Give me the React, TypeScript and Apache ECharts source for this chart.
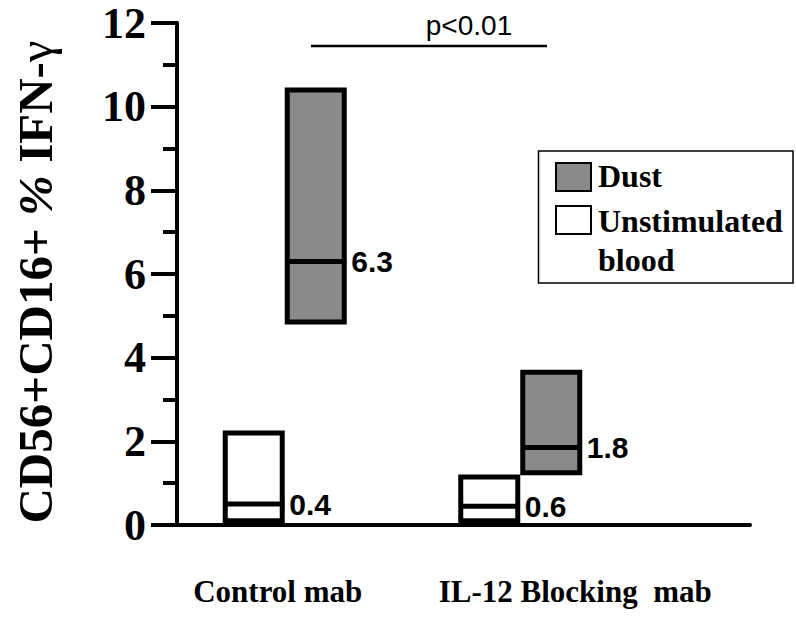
import React, { useEffect, useRef } from "react";
import * as echarts from "echarts";

const categories = ["Control mab", "IL-12 Blocking  mab"];
const yTicks = [0, 2, 4, 6, 8, 10, 12];

const unstimLow = [0.1, 0.1];
const unstimMedian = [0.5, 0.45];
const unstimHigh = [2.2, 1.15];
const unstimLabels = ["0.4", "0.6"];

const dustLow = [4.85, 1.25];
const dustMedian = [6.3, 1.85];
const dustHigh = [10.4, 3.65];
const dustLabels = ["6.3", "1.8"];

const seriesNames = ["Dust", "Unstimulated\nblood"];
const pValue = "p<0.01";

const SERIF = '"Liberation Serif", "Times New Roman", serif';
const SANS = '"Liberation Sans", Arial, sans-serif';

function makeRender(offset: number, fill: string, labels: string[]) {
  const w = 57;
  return (params: any, api: any) => {
    const cat = api.value(0);
    const low = api.value(1);
    const med = api.value(2);
    const high = api.value(3);
    const top = api.coord([cat, high]);
    const bot = api.coord([cat, low]);
    const mid = api.coord([cat, med]);
    const x = top[0] + offset;
    return {
      type: "group",
      children: [
        {
          type: "rect",
          shape: { x: x - w / 2, y: top[1], width: w, height: bot[1] - top[1] },
          style: { fill, stroke: "#000", lineWidth: 5 },
        },
        {
          type: "line",
          shape: { x1: x - w / 2, y1: mid[1], x2: x + w / 2 + 2, y2: mid[1] },
          style: { stroke: "#000", lineWidth: 5 },
        },
        {
          type: "text",
          style: {
            text: labels[params.dataIndex],
            x: x + w / 2 + 7,
            y: mid[1],
            align: "left",
            verticalAlign: "middle",
            fill: "#000",
            font: `bold 30px ${SANS}`,
          },
        },
      ],
    };
  };
}

export default function App() {
  const ref = useRef<HTMLDivElement>(null);
  useEffect(() => {
    document.body.style.margin = "0";
    if (!ref.current) return;
    const chart = echarts.init(ref.current, undefined, { renderer: "svg" });
    const unstimData = categories.map((_, i) => [i, unstimLow[i], unstimMedian[i], unstimHigh[i]]);
    const dustData = categories.map((_, i) => [i, dustLow[i], dustMedian[i], dustHigh[i]]);
    chart.setOption({
      animation: false,
      backgroundColor: "#fff",
      grid: [
        { left: 177, right: 46, top: 23, bottom: 92 },
        { left: 167, right: 158, top: 23, bottom: 92 },
      ],
      xAxis: [
        {
          gridIndex: 0,
          type: "value",
          min: 0,
          max: 1,
          axisLine: { show: true, onZero: false, lineStyle: { color: "#000", width: 4 } },
          axisTick: { show: false },
          axisLabel: { show: false },
          splitLine: { show: false },
        },
        {
          gridIndex: 1,
          type: "category",
          data: categories,
          axisLine: { show: false },
          axisTick: { show: false },
          axisLabel: {
            margin: 51,
            formatter: (v: string) => (v === categories[0] ? `{a|${v}}` : `{b|${v}}`),
            rich: {
              a: { fontFamily: SERIF, fontWeight: "bold", fontSize: 31, color: "#000", padding: [0, 14, 0, 0] },
              b: { fontFamily: SERIF, fontWeight: "bold", fontSize: 31, color: "#000", padding: [0, 0, 0, 110] },
            },
          },
        },
      ],
      yAxis: [
        {
          gridIndex: 0,
          type: "value",
          min: yTicks[0],
          max: yTicks[yTicks.length - 1],
          interval: 2,
          name: "{a|CD56+CD16+ }{b|%}{a| IFN-}{g|γ}",
          nameLocation: "middle",
          nameRotate: 90,
          nameGap: 117,
          nameTextStyle: {
            rich: {
              a: { fontFamily: SERIF, fontWeight: "bold", fontSize: 49, color: "#000" },
              b: { fontFamily: SERIF, fontWeight: "bold", fontStyle: "italic", fontSize: 49, color: "#000" },
              g: { fontFamily: SERIF, fontWeight: "normal", fontSize: 49, color: "#000", padding: [0, 16, 0, 0] },
            },
          },
          axisLine: { show: true, lineStyle: { color: "#000", width: 4 } },
          axisTick: { show: true, length: 26, lineStyle: { color: "#000", width: 4 } },
          minorTick: { show: true, splitNumber: 2, length: 14, lineStyle: { color: "#000", width: 4 } },
          axisLabel: {
            margin: 31,
            fontFamily: SERIF,
            fontWeight: "bold",
            fontSize: 44,
            lineHeight: 40,
            color: "#000",
          },
          splitLine: { show: false },
        },
        {
          gridIndex: 1,
          type: "value",
          min: yTicks[0],
          max: yTicks[yTicks.length - 1],
          show: false,
        },
      ],
      series: [
        {
          name: seriesNames[1],
          type: "custom",
          xAxisIndex: 1,
          yAxisIndex: 1,
          renderItem: makeRender(-31, "#fff", unstimLabels),
          encode: { x: 0, y: [1, 2, 3] },
          data: unstimData,
        },
        {
          name: seriesNames[0],
          type: "custom",
          xAxisIndex: 1,
          yAxisIndex: 1,
          renderItem: makeRender(31, "#8a8a8a", dustLabels),
          encode: { x: 0, y: [1, 2, 3] },
          data: dustData,
        },
      ],
      graphic: [
        {
          type: "line",
          shape: { x1: 311, y1: 46, x2: 547, y2: 46 },
          style: { stroke: "#000", lineWidth: 2.5 },
        },
        {
          type: "text",
          style: {
            text: pValue,
            x: 469,
            y: 25,
            align: "center",
            verticalAlign: "middle",
            fill: "#000",
            font: `28px ${SANS}`,
          },
        },
        {
          type: "group",
          children: [
            {
              type: "rect",
              shape: { x: 538.5, y: 151, width: 254.5, height: 132 },
              style: { fill: "#fff", stroke: "#000", lineWidth: 1.5 },
            },
            {
              type: "rect",
              shape: { x: 556, y: 163, width: 35, height: 28 },
              style: { fill: "#8a8a8a", stroke: "#000", lineWidth: 2 },
            },
            {
              type: "rect",
              shape: { x: 556, y: 206, width: 35, height: 28 },
              style: { fill: "#fff", stroke: "#000", lineWidth: 2 },
            },
            {
              type: "text",
              style: {
                text: seriesNames[0],
                x: 598,
                y: 176,
                align: "left",
                verticalAlign: "middle",
                fill: "#000",
                font: `bold 32px ${SERIF}`,
              },
            },
            {
              type: "text",
              style: {
                text: seriesNames[1],
                x: 598,
                y: 201,
                align: "left",
                verticalAlign: "top",
                lineHeight: 39,
                fill: "#000",
                font: `bold 32px ${SERIF}`,
              },
            },
          ],
        },
      ],
    });
    return () => chart.dispose();
  }, []);
  return <div ref={ref} style={{ width: 796, height: 617 }} />;
}
